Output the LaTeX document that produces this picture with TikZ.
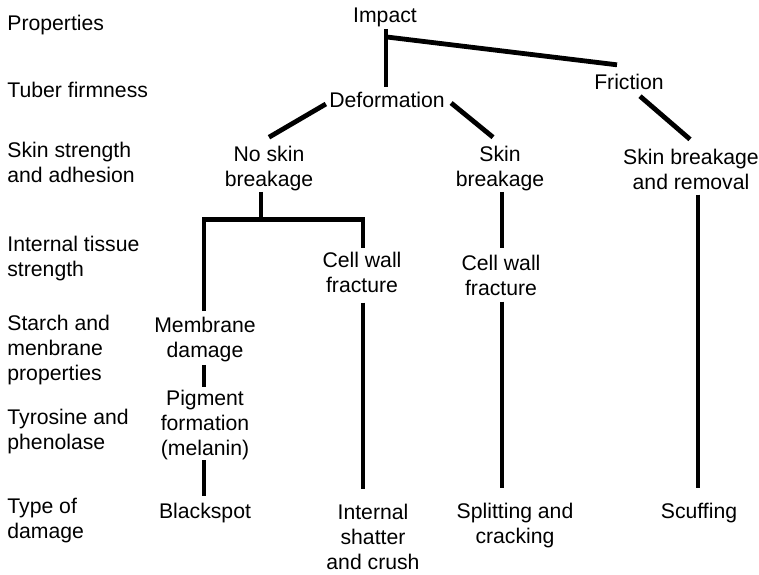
\documentclass[tikz,border=0pt]{standalone}
\usepackage{fontspec}
\setmainfont{Liberation Sans}
\usetikzlibrary{calc}

\begin{document}
\begin{tikzpicture}[x=.5pt,y=-.5pt,
  every node/.style={font=\fontsize{10.6}{12.5}\selectfont,align=center,inner sep=0pt},
  prop/.style={anchor=west,align=left},
  link/.style={line width=2.4pt}]
\useasboundingbox (0,0) rectangle (759,574);
\node[prop] (lprop) at (7,25) {Properties};
\node[prop] (ltuber) at (7,90) {Tuber firmness};
\node[prop] (lskin) at (7,162) {Skin strength\\and adhesion};
\node[prop] (ltissue) at (7,259) {Internal tissue\\strength};
\node[prop] (lstarch) at (7,350) {Starch and\\menbrane\\properties};
\node[prop] (ltyro) at (7,432) {Tyrosine and\\phenolase};
\node[prop] (ltype) at (7,521) {Type of\\damage};
\node (impact) at (385,17) {Impact};
\node (deform) at (387,100) {Deformation};
\node (friction) at (629,82) {Friction};
\node (nsb) at (269,169) {No skin\\breakage};
\node (sb) at (500,169) {Skin\\breakage};
\node (sbr) at (691,169) {Skin breakage\\and removal};
\node (cwfa) at (362,272) {Cell wall\\fracture};
\node (cwfb) at (501,275) {Cell wall\\fracture};
\node (memb) at (205,340) {Membrane\\damage};
\node (pigm) at (205,425) {Pigment\\formation\\(melanin)};
\node (black) at (205,513) {Blackspot};
\node (shatter) at (373,537) {Internal\\shatter\\and crush};
\node (split) at (515,526) {Splitting and\\cracking};
\node (scuff) at (699,513) {Scuffing};
\coordinate (fork) at ($(impact.south)+(1,10)$);
\coordinate (bar) at ($(nsb.south)+(-8,28)$);
\draw[link] ($(impact.south)+(1,2)$) -- ($(deform.north)+(-1,-5)$);
\draw[link] (fork) -- ($(friction.north)+(-12,-9)$);
\draw[link] ($(deform.west)+(-3,4)$) -- ($(nsb.north)+(0,-9)$);
\draw[link] ($(deform.east)+(6,3)$) -- ($(sb.north)+(-7,-9)$);
\draw[link] ($(friction.south)+(11,6)$) -- ($(sbr.north)+(-1,-9)$);
\draw[link] ($(nsb.south)+(-8,0)$) -- (bar);
\draw[link] ($(memb.north)+(-1,-6)$) |- (bar) -| ($(cwfa.north)+(1,-3)$);
\draw[link] ($(cwfa.south)+(1,10)$) -- ($(cwfa.south |- shatter.north)+(1,-15)$);
\draw[link] ($(memb.south)+(-1,2)$) -- ($(pigm.north)+(-1,-3)$);
\draw[link] ($(pigm.south)+(-1,0)$) -- ($(black.north)+(-1,-7)$);
\draw[link] ($(sb.south)+(2,0)$) -- ($(sb.south |- cwfb.north)+(2,-6)$);
\draw[link] ($(cwfb.south)+(1,6)$) -- ($(cwfb.south |- split.north)+(1,-15)$);
\draw[link] ($(sbr.south)+(7,5)$) -- ($(sbr.south |- scuff.north)+(7,-15)$);
\end{tikzpicture}
\end{document}
